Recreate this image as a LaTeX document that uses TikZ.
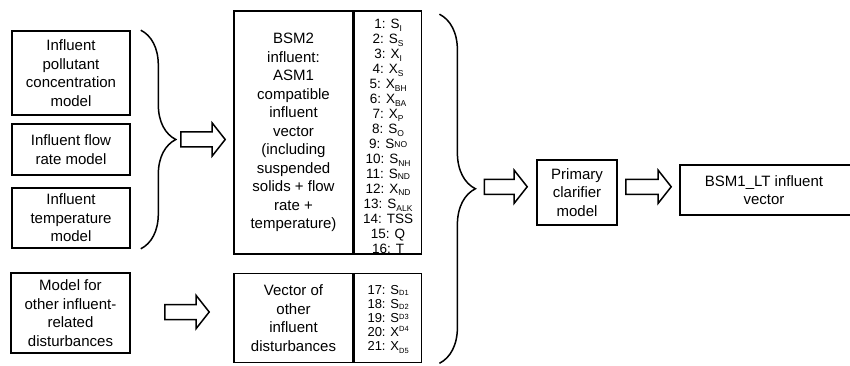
\documentclass[tikz,border=0pt]{standalone}
\usepackage{fontspec}
\setmainfont{Liberation Sans}
\usetikzlibrary{calc,decorations.pathreplacing}
\newcommand\sbs[2][-3pt]{\raisebox{#1}{\fontsize{8.5}{8.5}\selectfont #2}}
\newcommand\sbt[2][-1pt]{\raisebox{#1}{\fontsize{7.5}{7.5}\selectfont #2}}
\newcommand\fatarrow[2]{%
  \draw[fat] ($(#1)+(0,7.5)$) -- ($(#2)+(-13,7.5)$) -- ($(#2)+(-13,16.5)$) -- (#2)
    -- ($(#2)+(-13,-16.5)$) -- ($(#2)+(-13,-7.5)$) -- ($(#1)+(0,-7.5)$) -- cycle;}
\tikzset{
  box/.style={draw, line width=1.6pt, inner sep=0pt, align=center,
    font=\fontsize{15}{18.5}\selectfont},
  lst/.style={inner sep=0pt, align=center, font=\fontsize{13.5}{15}\selectfont},
  brc/.style={draw, line width=1.5pt, decorate, decoration={brace, amplitude=#1}},
  fat/.style={draw, line width=1.5pt, fill=white, line join=miter},
}
\begin{document}
\begin{tikzpicture}[x=1pt,y=1pt]
\useasboundingbox (0,0) rectangle (850,-366);
\clip (0,0) rectangle (850,-366);
\fill[white] (0,0) rectangle (850,-366);
% left model boxes
\node[box, minimum width=118pt, minimum height=84pt] (b1) at (71,-73) {Influent\\pollutant\\concentration\\model};
\node[box, minimum width=118pt, minimum height=51pt] (b2) at (71,-149.5) {Influent flow\\rate model};
\node[box, minimum width=118pt, minimum height=60pt] (b3) at (71,-218) {Influent\\temperature\\model};
\node[box, minimum width=119pt, minimum height=80pt] (b4) at (70.5,-313) {Model for\\other influent-\\related\\disturbances};
% BSM2 vector
\node[box, minimum width=119pt, minimum height=243pt] (v1) at (293.5,-132.5) {BSM2\\influent:\\ASM1\\compatible\\influent\\vector\\(including\\suspended\\solids + flow\\rate +\\temperature)};
\node[box, minimum width=67pt, minimum height=243pt, anchor=west] (v1r) at (v1.east) {};
\node[lst] (l1) at ($(v1r.center)+(0,-4)$) {1: S\sbs{I}\\2: S\sbs{S}\\3: X\sbs{I}\\4: X\sbs{S}\\5: X\sbs{BH}\\6: X\sbs{BA}\\7: X\sbs{P}\\8: S\sbs{O}\\9: S\sbs[1pt]{NO}\\10: S\sbs{NH}\\11: S\sbs[-1pt]{ND}\\12: X\sbs[-2pt]{ND}\\13: S\sbs{ALK}\\14: TSS\\15: Q\\16: T};
% other disturbances vector
\node[box, minimum width=119pt, minimum height=89pt] (v2) at (293.5,-318) {Vector of\\other\\influent\\disturbances};
\node[box, minimum width=67pt, minimum height=89pt, anchor=west] (v2r) at (v2.east) {};
\node[lst, font=\fontsize{13}{14}\selectfont] (l2) at ($(v2r.center)+(0,-1)$) {17: S\sbt{D1}\\18: S\sbt{D2}\\19: S\sbt[3pt]{D3}\\20: X\sbt[5pt]{D4}\\21: X\sbt[-3pt]{D5}};
% clarifier and output
\node[box, minimum width=80pt, minimum height=65pt] (pc) at (577,-192.5) {Primary\\clarifier\\model};
\node[box, minimum width=176pt, minimum height=50pt] (lt) at (768,-190) {\hspace*{-8pt}BSM1\_LT influent\\\hspace*{-8pt}vector};
% braces
\draw[brc=35pt] ($(b1.north east)+(10,0)$) -- ($(b3.south east)+(10,0)$);
\coordinate (m1) at ($(b1.north east)!0.5!(b3.south east)$);
\coordinate (t1) at ($(m1)+(45,0)$);
\draw[brc=36pt] ($(v1r.north east)+(17,-4)$) -- ($(v2r.south east)+(17,0)$);
\coordinate (m2) at ($(v1r.north east)!0.5!(v2r.south east)$);
\coordinate (t2) at ($(m2)+(53,0)$);
% block arrows
\coordinate (a1s) at ($(t1)+(5,0)$);
\coordinate (a1e) at (v1.west |- t1);
\coordinate (a1t) at ($(a1e)+(-8,0)$);
\fatarrow{a1s}{a1t}
\coordinate (a2s) at ($(b4.east)+(34,1)$);
\coordinate (a2e) at (v2.west |- a2s);
\coordinate (a2t) at ($(a2e)+(-24,0)$);
\fatarrow{a2s}{a2t}
\coordinate (a3s) at ($(t2)+(9,0)$);
\coordinate (a3t) at ($(pc.west |- t2)+(-9,0)$);
\fatarrow{a3s}{a3t}
\coordinate (a4s) at ($(pc.east |- t2)+(8,0)$);
\coordinate (a4t) at ($(lt.west |- t2)+(-8,0)$);
\fatarrow{a4s}{a4t}
\end{tikzpicture}
\end{document}
